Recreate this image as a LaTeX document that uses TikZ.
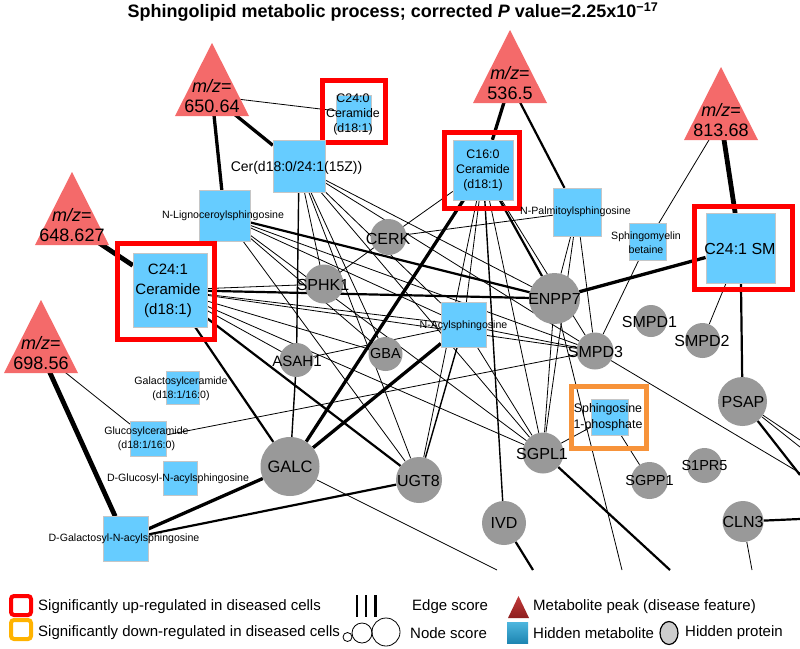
\documentclass[tikz,border=0pt]{standalone}
\usepackage{fontspec}
\setmainfont{Liberation Sans}
\usetikzlibrary{calc}
\pgfdeclarelayer{bg}
\pgfdeclarelayer{mid}
\pgfsetlayers{bg,mid,main}
\definecolor{tricol}{HTML}{F46A6A}
\definecolor{metcol}{HTML}{66CCFF}
\definecolor{protcol}{HTML}{999999}
\definecolor{upred}{HTML}{FF0000}
\definecolor{downor}{HTML}{F7933A}
\definecolor{legor}{HTML}{FFB300}
\definecolor{legsqtop}{HTML}{4DB6DE}
\definecolor{legsqbot}{HTML}{1E86B2}
\definecolor{legtritop}{HTML}{C23A3A}
\definecolor{legtribot}{HTML}{8E1F1F}
\newcommand\mztri[1]{\fill[tricol] ($(#1)+(-37,20)$) -- ($(#1)+(0,-53)$) -- ($(#1)+(37,20)$) -- cycle;}
\tikzset{
  met/.style={rectangle, fill=metcol, draw=gray!45, line width=0.4pt, inner sep=0pt, minimum size=#1},
  prot/.style={circle, fill=protcol, inner sep=0pt, minimum size=#1},
  upbox/.style={rectangle, draw=upred, line width=5pt, inner sep=0pt},
  downbox/.style={rectangle, draw=downor, line width=5pt, inner sep=0pt},
  trilab/.style={align=center, font=\fontsize{18}{20}\selectfont, inner sep=0pt},
  plab/.style={font=\fontsize{16}{18}\selectfont, inner sep=0pt},
  plabs/.style={font=\fontsize{14.5}{17}\selectfont, inner sep=0pt},
  slab/.style={align=center, font=\fontsize{10.6}{13.5}\selectfont, inner sep=0pt},
  mlab/.style={align=center, font=\fontsize{12.4}{15}\selectfont, inner sep=0pt},
  leg/.style={anchor=west, font=\fontsize{15}{17}\selectfont, inner sep=0pt},
  ea/.style={line width=0.8pt},
  eb/.style={line width=1.4pt},
  ec/.style={line width=2.2pt},
  ed/.style={line width=3.3pt},
  ee/.style={line width=4.8pt},
}
\begin{document}
\begin{tikzpicture}[x=1pt,y=-1pt]
\begin{pgfonlayer}{bg}
\fill[white] (0,0) rectangle (800,648);
\end{pgfonlayer}
\useasboundingbox (0,0) rectangle (800,648);

% title
\node[font=\bfseries\fontsize{18}{20}\selectfont, inner sep=0pt] (title) at (393,12)
  {Sphingolipid metabolic process; corrected \textit{P} value=2.25x10\textsuperscript{−17}};

% metabolite peaks (triangles)
\node[trilab] (t650) at (212,96) {\textit{m/z}=\\650.64};
\node[trilab] (t536) at (510,83) {\textit{m/z}=\\536.5};
\node[trilab] (t813) at (721,120) {\textit{m/z}=\\813.68};
\node[trilab] (t648) at (72,225) {\textit{m/z}=\\648.627};
\node[trilab] (t698) at (41,353) {\textit{m/z}=\\698.56};

% metabolites (squares)
\node[met=35] (c240) at (354,113) {};
\node[upbox, minimum width=63, minimum height=62] (c240b) at (354,111.5) {};
\node[mlab] (c240L) at (353,114) {C24:0\\Ceramide\\(d18:1)};

\node[met=52] (cer) at (299,166.5) {};
\node[font=\fontsize{14}{16}\selectfont, inner sep=0pt] (cerL) at (296.5,168) {Cer(d18:0/24:1(15Z))};

\node[met=51] (nlig) at (224.5,216) {};
\node[slab] (nligL) at (223,216) {N-Lignoceroylsphingosine};

\node[met=74] (c241) at (170,290) {};
\node[upbox, minimum width=97, minimum height=96] (c241b) at (166,291) {};
\node[align=center, font=\fontsize{15}{20}\selectfont, inner sep=0pt] (c241L) at (168,291) {C24:1\\Ceramide\\(d18:1)};

\node[met=60] (c160) at (483,170) {};
\node[upbox, minimum width=75, minimum height=76] (c160b) at (482,170.5) {};
\node[mlab] (c160L) at (483,170) {C16:0\\Ceramide\\(d18:1)};

\node[met=48] (npal) at (577,212) {};
\node[slab] (npalL) at (575.5,212) {N-Palmitoylsphingosine};

\node[met=37] (smb) at (647.5,242) {};
\node[slab] (smbL) at (646,242.5) {Sphingomyelin\\betaine};

\node[met=69.5] (sm) at (740.5,248) {};
\node[upbox, minimum width=98, minimum height=83] (smb2) at (743.5,248) {};
\node[font=\fontsize{16}{18}\selectfont, inner sep=0pt] (smL) at (740,249) {C24:1 SM};

\node[met=45] (nacyl) at (463.5,325) {};
\node[slab] (nacylL) at (463.5,326) {N-Acylsphingosine};

\node[met=33] (galcer) at (182.5,387.5) {};
\node[slab] (galcerL) at (181,389) {Galactosylceramide\\(d18:1/16:0)};

\node[met=35.5] (glccer) at (148,438.5) {};
\node[slab] (glccerL) at (146.5,439) {Glucosylceramide\\(d18:1/16:0)};

\node[met=34] (dglc) at (180,478) {};
\node[slab] (dglcL) at (178,479) {D-Glucosyl-N-acylsphingosine};

\node[met=45] (dgal) at (125.5,539) {};
\node[slab] (dgalL) at (124,539) {D-Galactosyl-N-acylsphingosine};

\node[met=36.5] (s1p) at (609.5,417) {};
\node[downbox, minimum width=75, minimum height=62] (s1pb) at (609,417.5) {};
\node[mlab, font=\fontsize{12.4}{16.5}\selectfont] (s1pL) at (608,417.5) {Sphingosine\\1-phosphate};

% proteins (circles)
\node[prot=36] (cerk) at (388.5,237) {};
\node[plab] (cerkL) at (388,238.5) {CERK};
\node[prot=39] (sphk1) at (324,284) {};
\node[plab] (sphk1L) at (323,285) {SPHK1};
\node[prot=51] (enpp7) at (554.5,298.5) {};
\node[plab] (enpp7L) at (554.5,299) {ENPP7};
\node[prot=32] (smpd1) at (651,321) {};
\node[plab] (smpd1L) at (649.5,322) {SMPD1};
\node[prot=35] (smpd2) at (702.5,340.5) {};
\node[plab] (smpd2L) at (702,341) {SMPD2};
\node[prot=37] (smpd3) at (595,351) {};
\node[plab] (smpd3L) at (595.5,351.5) {SMPD3};
\node[prot=49] (psap) at (742.5,401.5) {};
\node[plab] (psapL) at (743,402) {PSAP};
\node[prot=34] (asah1) at (296.5,360) {};
\node[font=\fontsize{15}{17}\selectfont, inner sep=0pt] (asah1L) at (297,361) {ASAH1};
\node[prot=34] (gba) at (385.5,354) {};
\node[plabs] (gbaL) at (385.5,354) {GBA};
\node[prot=59] (galc) at (290,466.5) {};
\node[font=\fontsize{16.5}{18}\selectfont, inner sep=0pt] (galcL) at (290,466.5) {GALC};
\node[prot=46] (ugt8) at (419,480) {};
\node[plab] (ugt8L) at (418.5,480.5) {UGT8};
\node[prot=41] (sgpl1) at (543,453) {};
\node[plab] (sgpl1L) at (542,453.5) {SGPL1};
\node[prot=37] (sgpp1) at (649.5,480.5) {};
\node[plabs] (sgpp1L) at (649.5,480.5) {SGPP1};
\node[prot=35] (s1pr5) at (704.5,465.5) {};
\node[plabs] (s1pr5L) at (704.5,466) {S1PR5};
\node[prot=44] (ivd) at (504,523) {};
\node[plab] (ivdL) at (504,523) {IVD};
\node[prot=41] (cln3) at (743,521.5) {};
\node[plab] (cln3L) at (743,521.5) {CLN3};

% free ends at the picture's edge
\coordinate (o1) at (800,475);
\coordinate (o2) at (800,440);
\coordinate (o3) at (800,447);
\coordinate (o4) at (800,473);
\coordinate (o5) at (800,519);
\coordinate (o6) at (752,570);
\coordinate (o7) at (670,570);
\coordinate (o8) at (533,570);
\coordinate (o9) at (622,570);
\coordinate (o10) at (497,570);

\begin{pgfonlayer}{mid}
\mztri{t650}
\mztri{t536}
\mztri{t813}
\mztri{t648}
\mztri{t698}
\end{pgfonlayer}

\begin{pgfonlayer}{bg}
% very thick
\draw[ee] (t813) -- (sm);
\draw[ee] (t648) -- (c241);
\draw[ee] (t698) -- (dgal);
% thick
\draw[ed] (t650) -- (nlig);
\draw[ed] (t650) -- (cer);
\draw[ed] (t536) -- (c160);
\draw[ed] (sm) -- (enpp7);
\draw[ed] (c160) -- (galc);
\draw[ed] (nacyl) -- (galc);
\draw[ed] (galc) -- (dgal);
% medium
\draw[ec] (t536) -- (npal);
\draw[ec] (sm) -- (psap);
\draw[ec] (c241) -- (galc);
\draw[ec] (c241) -- (enpp7);
\draw[ec] (nlig) -- (enpp7);
\draw[ec] (c241) -- (ugt8);
\draw[ec] (ugt8) -- (dgal);
\draw[ec] (c160) -- (enpp7);
\draw[ec] (sgpl1) -- (o7);
\draw[ec] (ivd) -- (o8);
\draw[ec] (cln3) -- (o5);
\draw[ec] (psap) -- (o1);
\draw[eb] (cer) -- (asah1);
\draw[eb] (asah1) -- (galc);
\draw[eb] (c160) -- (ivd);
\draw[eb] (nacyl) -- (ugt8);
% thin
\draw[ea] (t650) -- (c240);
\draw[ea] (t813) -- (smb);
\draw[ea] (t698) -- (glccer);
\draw[ea] (sm) -- (smpd2);
\draw[ea] (smb) -- (smpd3);
\draw[ea] (c241) -- (sphk1);
\draw[ea] (c241) -- (asah1);
\draw[ea] (c241) -- (gba);
\draw[ea] (c241) -- (nacyl);
\draw[ea] (c241) -- (smpd3);
\draw[ea] (c241) -- (sgpl1);
\draw[ea] (cer) -- (sphk1);
\draw[ea] (cer) -- (gba);
\draw[ea] (cer) -- (ugt8);
\draw[ea] (cer) -- (sgpl1);
\draw[ea] (cer) -- (enpp7);
\draw[ea] (cer) -- (smpd3);
\draw[ea] (cer) -- (nacyl);
\draw[ea] (nlig) -- (smpd3);
\draw[ea] (nlig) -- (sgpl1);
\draw[ea] (nlig) -- (ugt8);
\draw[ea] (nlig) -- (nacyl);
\draw[ea] (nlig) -- (gba);
\draw[ea] (c160) -- (cerk);
\draw[ea] (cerk) -- (sphk1);
\draw[ea] (c160) -- (nacyl);
\draw[ea] (c160) -- (ugt8);
\draw[ea] (c160) -- (sgpl1);
\draw[ea] (c160) -- (smpd3);
\draw[ea] (npal) -- (cerk);
\draw[ea] (npal) -- (enpp7);
\draw[ea] (npal) -- (smpd3);
\draw[ea] (npal) -- (sgpl1);
\draw[ea] (nacyl) -- (smpd3);
\draw[ea] (nacyl) -- (sgpl1);
\draw[ea] (asah1) -- (nacyl);
\draw[ea] (enpp7) -- (sgpl1);
\draw[ea] (enpp7) -- (o9);
\draw[ea] (galc) -- (o10);
\draw[ea] (sgpl1) -- (s1p);
\draw[ea] (s1p) -- (sgpp1);
\draw[ea] (psap) -- (o2);
\draw[ea] (psap) -- (o3);
\draw[ea] (smpd3) -- (o4);
\draw[ea] (cln3) -- (o6);
\draw[ea] (glccer) -- (smpd3);
\end{pgfonlayer}

% legend
\node[rectangle, draw=upred, line width=4pt, rounded corners=3pt, minimum width=20, minimum height=19, inner sep=0pt] (lgup) at (21,605.5) {};
\node[rectangle, draw=legor, line width=4pt, rounded corners=3pt, minimum width=20, minimum height=19, inner sep=0pt] (lgdown) at (21,629.5) {};
\node[leg] (lgupT) at (38,607) {Significantly up-regulated in diseased cells};
\node[leg] (lgdownT) at (38,633) {Significantly down-regulated in diseased cells};
\draw[line width=1.2pt] (357,595) -- (357,617);
\draw[line width=2pt] (366,595) -- (366,617);
\draw[line width=3pt] (375,595) -- (375,617);
\node[leg] (lgedge) at (412,607) {Edge score};
\node[circle, draw, line width=0.8pt, minimum size=9, inner sep=0pt] (lgn1) at (347.5,637) {};
\node[circle, draw, line width=0.8pt, minimum size=20, inner sep=0pt] (lgn2) at (362,633) {};
\node[circle, draw, line width=0.8pt, minimum size=28, inner sep=0pt] (lgn3) at (386,632) {};
\node[leg] (lgnode) at (410,633) {Node score};
\shade[top color=legtritop, bottom color=legtribot] (508,618) -- (518.5,596) -- (529,618) -- cycle;
\node[leg] (lgpeak) at (533,607) {Metabolite peak (disease feature)};
\node[rectangle, top color=legsqtop, bottom color=legsqbot, minimum size=21, inner sep=0pt] (lgsq) at (517.5,632.5) {};
\node[leg] (lgmet) at (533,633) {Hidden metabolite};
\filldraw[fill=gray!40, draw=black, line width=1.2pt] (669,633) ellipse [x radius=9, y radius=11.5];
\node[leg] (lgprot) at (685,633) {Hidden protein};
\end{tikzpicture}
\end{document}
